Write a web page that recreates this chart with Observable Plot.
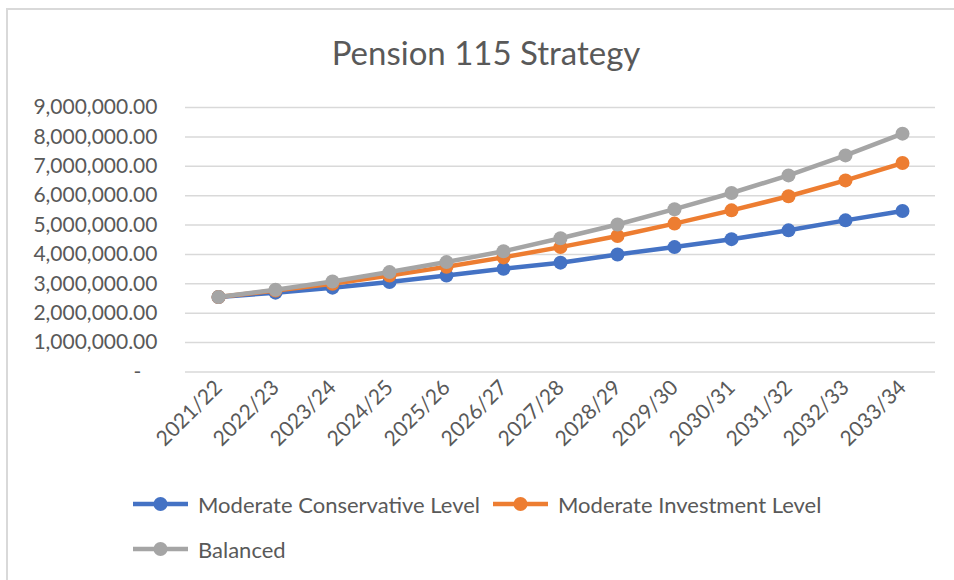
<!DOCTYPE html>
<html><head><meta charset="utf-8">
<script src="https://cdn.jsdelivr.net/npm/d3@7"></script>
<script src="https://cdn.jsdelivr.net/npm/@observablehq/plot@0.6"></script>
<style>
body{margin:0;background:#fff;font-family:Lato,sans-serif;}
#wrap{position:relative;width:954px;height:580px;overflow:hidden;background:#fff}
#frame{position:absolute;left:6px;top:8px;width:1000px;height:1000px;border-left:2px solid #d9d9d9;border-top:2px solid #d9d9d9}
#title{position:absolute;top:33px;left:0;width:972px;text-align:center;font-size:33px;line-height:38px;color:#595959}
#chart{position:absolute;left:0;top:90px}
.leg{position:absolute;display:flex;align-items:center;font-size:22px;color:#595959;height:30px;white-space:nowrap}
.leg svg{margin-right:10px}
</style></head>
<body>
<div id="wrap">
  <div id="frame"></div>
  <div id="title">Pension 115 Strategy</div>
  <div id="chart"></div>
  <div id="legend"></div>
</div>
<script>
const years = ["2021/22","2022/23","2023/24","2024/25","2025/26","2026/27","2027/28","2028/29","2029/30","2030/31","2031/32","2032/33","2033/34"];
const conservative = [2550000, 2700000, 2870000, 3060000, 3280000, 3510000, 3720000, 4000000, 4250000, 4520000, 4820000, 5160000, 5480000];
const investment = [2550000, 2770000, 3000000, 3280000, 3580000, 3900000, 4250000, 4630000, 5050000, 5500000, 5980000, 6520000, 7110000];
const balanced = [2550000, 2800000, 3080000, 3400000, 3740000, 4110000, 4550000, 5020000, 5540000, 6090000, 6690000, 7370000, 8110000];
const seriesNames = ["Moderate Conservative Level", "Moderate Investment Level", "Balanced"];
const seriesColors = ["#4472C4", "#ED7D31", "#A5A5A5"];
const yTicks = [0,1000000,2000000,3000000,4000000,5000000,6000000,7000000,8000000,9000000];

const seriesValues = [conservative, investment, balanced];
const marks = [
  Plot.gridY(yTicks, {stroke: "#d9d9d9", strokeOpacity: 1, strokeWidth: 1.5})
];
seriesValues.forEach((vals, i) => {
  const data = years.map((y, j) => ({year: y, value: vals[j]}));
  marks.push(Plot.line(data, {x: "year", y: "value", stroke: seriesColors[i], strokeWidth: 4.5}));
  marks.push(Plot.dot(data, {x: "year", y: "value", fill: seriesColors[i], r: 7}));
});

const fmt = d3.format(",.2f");
const chart = Plot.plot({
  width: 954,
  height: 390,
  marginTop: 17,
  marginBottom: 108.5,
  marginLeft: 185,
  marginRight: 19,
  style: {fontFamily: "Lato, sans-serif", fontSize: "21px", color: "#595959", background: "transparent"},
  x: {type: "point", domain: years, padding: 0.5, label: null, tickSize: 0, tickRotate: -45, tickPadding: 12},
  y: {domain: [0, 9000000], ticks: yTicks, label: null, tickSize: 0, tickPadding: 28,
      tickFormat: d => d === 0 ? "-\u00a0\u00a0\u00a0" : fmt(d)},
  marks
});
document.getElementById("chart").appendChild(chart);

const legendPos = [[133, 489], [493, 489], [133, 534]];
const legend = document.getElementById("legend");
seriesNames.forEach((name, i) => {
  const div = document.createElement("div");
  div.className = "leg";
  div.style.left = legendPos[i][0] + "px";
  div.style.top = legendPos[i][1] + "px";
  div.innerHTML = `<svg width="55" height="16"><line x1="0" x2="55" y1="8" y2="8" stroke="${seriesColors[i]}" stroke-width="4.5"/><circle cx="27.5" cy="8" r="7" fill="${seriesColors[i]}"/></svg><span>${name}</span>`;
  legend.appendChild(div);
});
</script>
</body></html>
